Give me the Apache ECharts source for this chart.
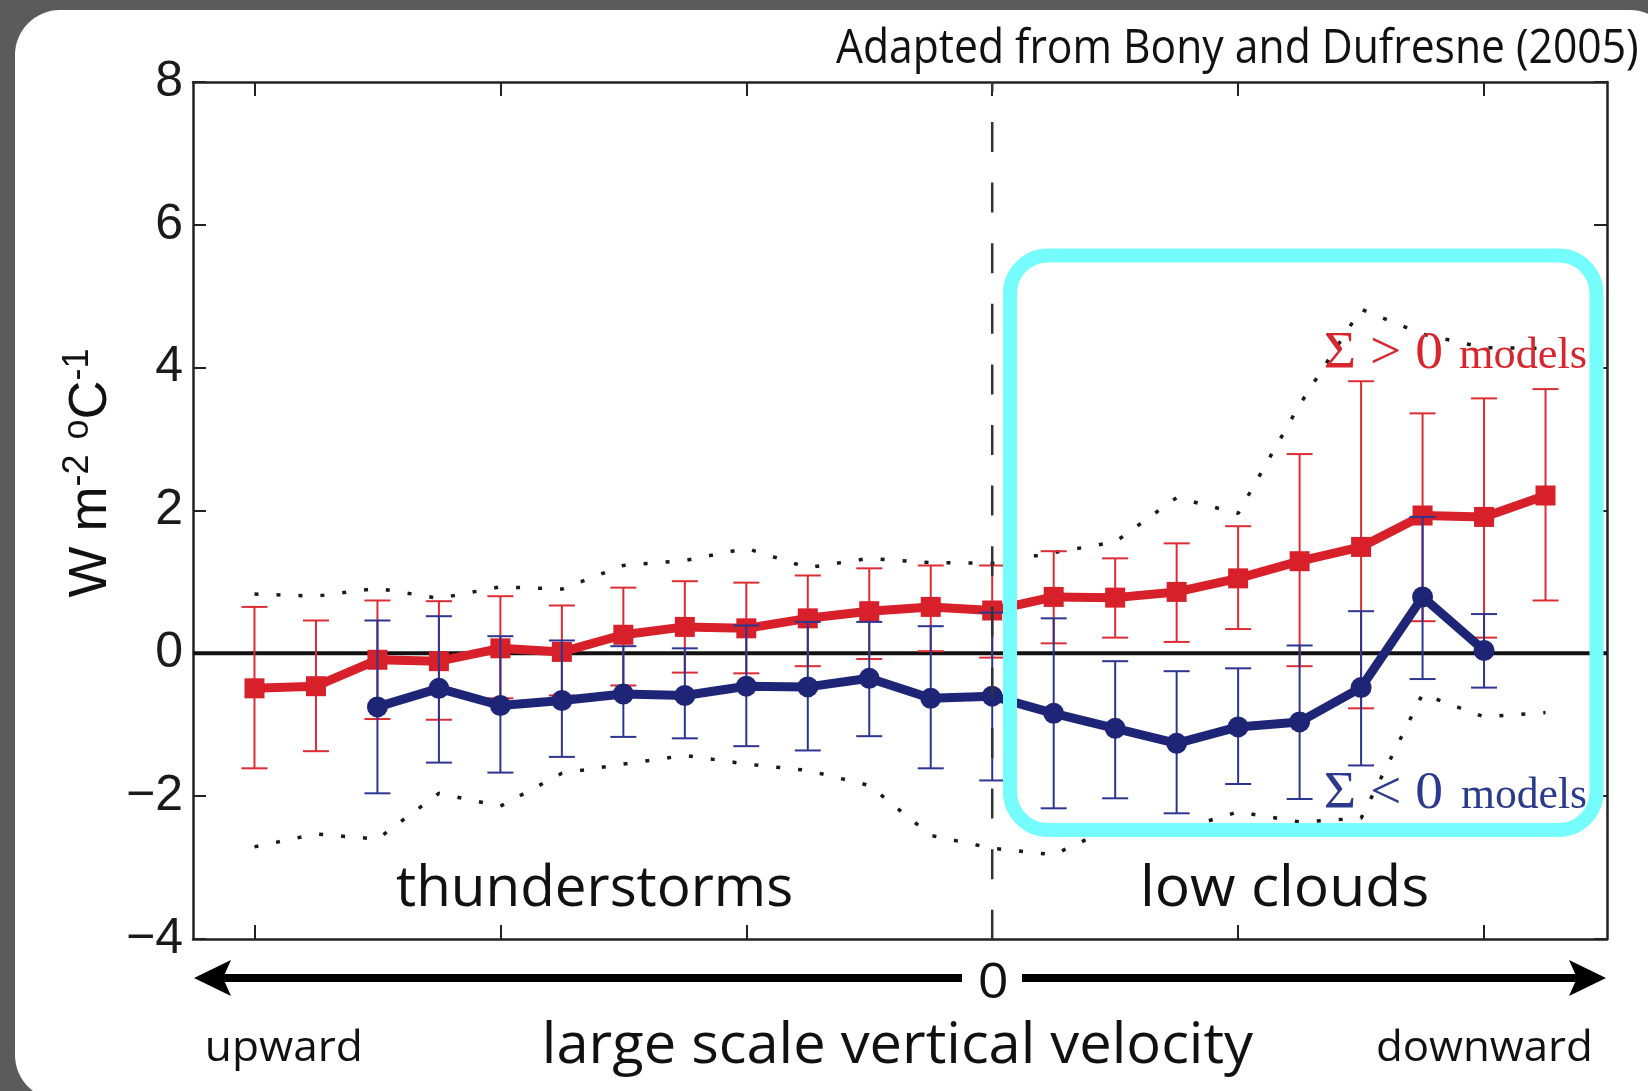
<!DOCTYPE html>
<html><head><meta charset="utf-8">
<script src="https://cdn.jsdelivr.net/npm/echarts@6/dist/echarts.min.js"></script>
<style>html,body{margin:0;padding:0;background:#5b5b5b;}#c{width:1648px;height:1091px;}</style>
</head><body><div id="c"></div>
<script>
// ---------- data ----------
const omega = [-60,-55,-50,-45,-40,-35,-30,-25,-20,-15,-10,-5,0,5,10,15,20,25,30,35,40,45];
const redMean = [-0.49,-0.46,-0.09,-0.11,0.07,0.02,0.26,0.37,0.35,0.49,0.59,0.65,0.60,0.79,0.78,0.86,1.05,1.29,1.49,1.93,1.91,2.21];
const redLow  = [-1.61,-1.37,-0.92,-0.93,-0.63,-0.59,-0.45,-0.27,-0.28,-0.18,-0.08,0.03,-0.06,0.14,0.22,0.16,0.34,-0.18,-0.77,0.45,0.22,0.74];
const redHigh = [0.65,0.46,0.74,0.73,0.80,0.67,0.92,1.01,0.99,1.09,1.19,1.23,1.23,1.43,1.33,1.54,1.78,2.79,3.81,3.36,3.57,3.70];
const blueOmega = [-50,-45,-40,-35,-30,-25,-20,-15,-10,-5,0,5,10,15,20,25,30,35,40];
const blueMean = [-0.75,-0.49,-0.73,-0.66,-0.57,-0.59,-0.46,-0.47,-0.35,-0.63,-0.60,-0.84,-1.05,-1.26,-1.03,-0.96,-0.48,0.79,0.04];
const blueLow  = [-1.96,-1.53,-1.67,-1.45,-1.17,-1.19,-1.30,-1.36,-1.16,-1.61,-1.78,-2.17,-2.03,-2.24,-1.83,-2.04,-1.57,-0.36,-0.48];
const blueHigh = [0.46,0.52,0.24,0.18,0.10,0.07,0.39,0.44,0.44,0.38,0.57,0.49,-0.11,-0.25,-0.21,0.11,0.59,1.91,0.55];
const envUpper = [0.83,0.80,0.91,0.77,0.93,0.90,1.23,1.30,1.47,1.20,1.33,1.27,1.26,1.41,1.56,2.18,1.96,3.48,4.82,4.47,4.28,4.27];
const envLower = [-2.71,-2.53,-2.60,-1.96,-2.14,-1.68,-1.55,-1.43,-1.55,-1.64,-1.85,-2.55,-2.73,-2.82,-2.42,-2.48,-2.22,-2.36,-2.31,-0.57,-0.89,-0.83];
const xTicks = [-60,-40,-20,0,20,40];
const xRange = [-65, 50];
const yRange = [-4, 8];
const yStep = 2;

const RED = '#d7202a', RED_E = '#dc2c34', BLUE = '#1f2576', BLUE_E = '#2e3590';

// ---------- text fitting helper ----------
const cv = document.createElement('canvas').getContext('2d');
function fitText(str, family, size, left, width, baseline, color, z) {
  const font = `normal ${size}px ${family}`;
  cv.font = font; cv.textBaseline = 'middle'; cv.textAlign = 'left';
  const m = cv.measureText(str);
  const down = cv.measureText('H').actualBoundingBoxDescent;
  const w = m.actualBoundingBoxLeft + m.actualBoundingBoxRight;
  const sx = width / w;
  return { type: 'text', z: z || 60, x: left + m.actualBoundingBoxLeft * sx, y: baseline - down,
    scaleX: sx, silent: true,
    style: { text: str, font: font, fill: color || '#111', textAlign: 'left', verticalAlign: 'middle', textVerticalAlign: 'middle' } };
}

function errSeries(xs, lows, highs, color, z) {
  return { type: 'custom', z: z, silent: true, animation: false,
    data: xs.map((x, i) => [x, lows[i], highs[i]]),
    encode: { x: 0, y: [1, 2] },
    renderItem(params, api) {
      const x = api.value(0);
      const lo = api.coord([x, api.value(1)]);
      const hi = api.coord([x, api.value(2)]);
      const hw = 13, st = { stroke: color, lineWidth: 2 };
      return { type: 'group', children: [
        { type: 'line', shape: { x1: lo[0], y1: lo[1], x2: hi[0], y2: hi[1] }, style: st },
        { type: 'line', shape: { x1: lo[0] - hw, y1: lo[1], x2: lo[0] + hw, y2: lo[1] }, style: st },
        { type: 'line', shape: { x1: hi[0] - hw, y1: hi[1], x2: hi[0] + hw, y2: hi[1] }, style: st }
      ] };
    } };
}

const axisLine = { show: true, onZero: false, lineStyle: { color: '#222', width: 2.5 } };
const xAx = (pos) => ({ type: 'value', position: pos, min: xRange[0], max: xRange[1],
  axisLine: axisLine,
  axisTick: { show: true, inside: true, length: 14, customValues: xTicks, lineStyle: { color: '#222', width: 2 } },
  axisLabel: { show: false }, splitLine: { show: false } });
const yAx = (pos, lab) => ({ type: 'value', position: pos, min: yRange[0], max: yRange[1], interval: yStep,
  axisLine: axisLine,
  axisTick: { show: true, inside: true, length: 13, lineStyle: { color: '#222', width: 2 } },
  axisLabel: { show: lab, margin: 10, fontFamily: 'Liberation Sans', fontSize: 50, color: '#1a1a1a',
    formatter: v => (v < 0 ? '\u2212' + Math.abs(v) : String(v)) },
  splitLine: { show: false } });

const OS = "'Open Sans'", SERIF = "'Liberation Serif'";
const graphics = [
  { type: 'rect', z: -100, silent: true, shape: { x: 15, y: 10, width: 1660, height: 1090, r: 45 }, style: { fill: '#ffffff' } },
  fitText('Adapted from Bony and Dufresne (2005)', OS, 47, 836, 801, 63, '#111'),
  fitText('thunderstorms', OS, 57, 396, 395, 906, '#111'),
  fitText('low clouds', OS, 57, 1144, 283, 906, '#111'),
  fitText('0', OS, 50, 980, 27, 998, '#111'),
  fitText('upward', OS, 42, 208, 152, 1061, '#111'),
  fitText('downward', OS, 42, 1378, 212, 1061, '#111'),
  fitText('large scale vertical velocity', OS, 56, 546, 708, 1063, '#111'),
  fitText('\u03A3 > 0', SERIF, 52, 1326, 116, 368, '#d7262e'),
  fitText('models', SERIF, 44, 1459, 127, 368, '#d7262e'),
  fitText('\u03A3 < 0', SERIF, 52, 1326, 116, 808, '#2b3a8c'),
  fitText('models', SERIF, 44, 1461, 125, 808, '#2b3a8c'),
  // y-axis title
  { type: 'text', z: 60, x: 91, y: 473, rotation: Math.PI / 2, silent: true,
    style: { text: '{a|W m}{s|-2}{a| }{s|o}{a|C}{s|-1}', textAlign: 'center', verticalAlign: 'middle', textVerticalAlign: 'middle',
      rich: { a: { fontFamily: 'Liberation Sans', fontSize: 54, lineHeight: 62, fill: '#111', color: '#111' },
              s: { fontFamily: 'Liberation Sans', fontSize: 36, lineHeight: 34, verticalAlign: 'top', fill: '#111', color: '#111' } } } },
  // bottom arrow
  { type: 'line', z: 50, silent: true, shape: { x1: 222, y1: 978, x2: 962, y2: 978 }, style: { stroke: '#000', lineWidth: 8 } },
  { type: 'line', z: 50, silent: true, shape: { x1: 1022, y1: 978, x2: 1578, y2: 978 }, style: { stroke: '#000', lineWidth: 8 } },
  { type: 'polygon', z: 50, silent: true, shape: { points: [[194, 978], [231, 960], [223, 978], [231, 996]] }, style: { fill: '#000' } },
  { type: 'polygon', z: 50, silent: true, shape: { points: [[1606, 978], [1569, 960], [1577, 978], [1569, 996]] }, style: { fill: '#000' } },
  // cyan highlight box
  { type: 'rect', z: 100, silent: true, shape: { x: 1010, y: 255.5, width: 586.5, height: 574.5, r: 38 },
    style: { fill: 'none', stroke: '#75fcfc', lineWidth: 14 } }
];

const chart = echarts.init(document.getElementById('c'), null, { renderer: 'canvas' });
chart.setOption({
  backgroundColor: '#5b5b5b',
  animation: false,
  grid: { left: 193, right: 41, top: 82, bottom: 152, containLabel: false },
  xAxis: [xAx('bottom'), xAx('top')],
  yAxis: [yAx('left', true), yAx('right', false)],
  graphic: graphics,
  series: [
    { type: 'line', z: 2, silent: true, symbol: 'none', data: omega.map((x, i) => [x, envUpper[i]]),
      lineStyle: { color: '#1a1a1a', width: 3.5, type: [4, 18] } },
    { type: 'line', z: 2, silent: true, symbol: 'none', data: omega.map((x, i) => [x, envLower[i]]),
      lineStyle: { color: '#1a1a1a', width: 3.5, type: [4, 18] } },
    { type: 'line', z: 3, silent: true, symbol: 'none', data: [[xRange[0], 0], [xRange[1], 0]],
      lineStyle: { color: '#111', width: 4 } },
    errSeries(omega, redLow, redHigh, RED_E, 4),
    { type: 'line', z: 5, silent: true, symbol: 'rect', symbolSize: 20, data: omega.map((x, i) => [x, redMean[i]]),
      lineStyle: { color: RED, width: 9 }, itemStyle: { color: RED } },
    errSeries(blueOmega, blueLow, blueHigh, BLUE_E, 6),
    { type: 'line', z: 7, silent: true, symbol: 'circle', symbolSize: 21, data: blueOmega.map((x, i) => [x, blueMean[i]]),
      lineStyle: { color: BLUE, width: 9 }, itemStyle: { color: BLUE } },
    { type: 'line', z: 10, silent: true, symbol: 'none', data: [[0, yRange[1]], [0, yRange[0]]],
      lineStyle: { color: '#333', width: 2.5, type: [30, 30.6], dashOffset: 20.6 } }
  ]
});
</script></body></html>
